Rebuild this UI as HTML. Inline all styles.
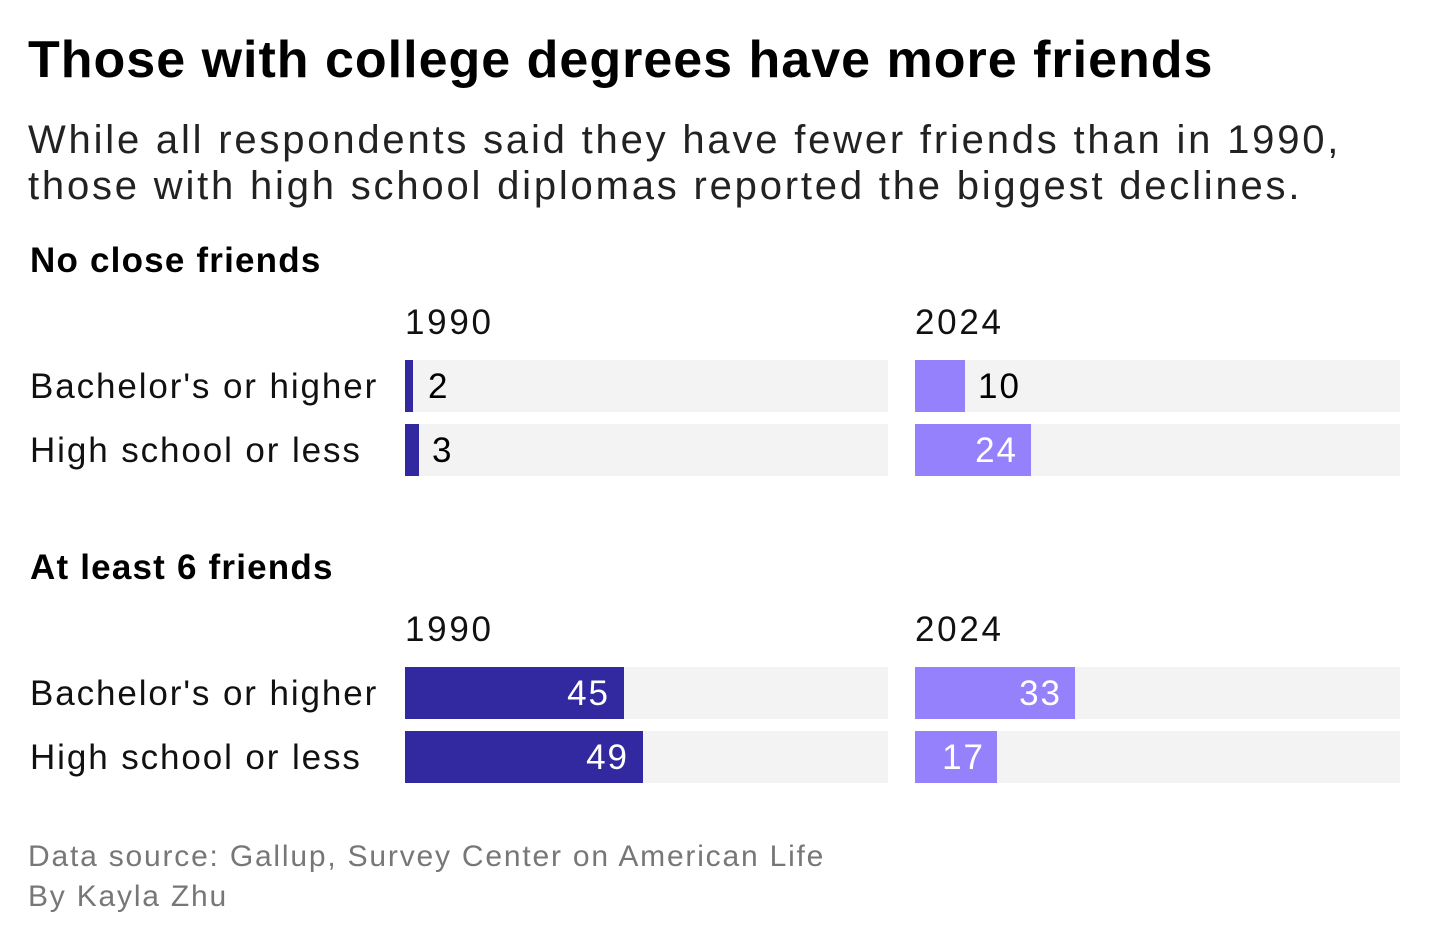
<!DOCTYPE html>
<html><head><meta charset="utf-8"><style>
body{margin:0;width:1440px;height:944px;background:#fff;font-family:"Liberation Sans",sans-serif;color:#000;position:relative;overflow:hidden}
div{position:absolute;white-space:nowrap}
.t{left:28px;top:30px;font-size:52px;font-weight:bold;letter-spacing:1px}
.s{left:28px;top:117px;font-size:40px;line-height:46px;color:#222;letter-spacing:2.8px}
.h{left:30px;font-size:35px;font-weight:bold;letter-spacing:1.2px}
.y{font-size:35px;color:#111;letter-spacing:2.7px}
.l{left:30px;font-size:35px;color:#111;line-height:52px;letter-spacing:1.9px}
.bg{height:52px;background:#f3f3f3}
.d{height:52px;background:#3229a0}
.p{height:52px;background:#9681fc}
.v{font-size:35px;line-height:52px;letter-spacing:2px}
.w{color:#fff;text-align:right}
.f{left:28px;font-size:30px;color:#777;letter-spacing:1.8px}
</style></head><body>
<div class="t">Those with college degrees have more friends</div>
<div class="s">While all respondents said they have fewer friends than in 1990,<br>those with high school diplomas reported the biggest declines.</div>

<div class="h" style="top:241px">No close friends</div>
<div class="y" style="left:405px;top:303px">1990</div>
<div class="y" style="left:915px;top:303px">2024</div>
<div class="l" style="top:361px">Bachelor's or higher</div>
<div class="l" style="top:425px">High school or less</div>
<div class="bg" style="left:405px;top:360px;width:483px"></div>
<div class="bg" style="left:405px;top:424px;width:483px"></div>
<div class="bg" style="left:915px;top:360px;width:485px"></div>
<div class="bg" style="left:915px;top:424px;width:485px"></div>
<div class="d" style="left:405px;top:360px;width:8px"></div>
<div class="d" style="left:405px;top:424px;width:14px"></div>
<div class="p" style="left:915px;top:360px;width:50px"></div>
<div class="p" style="left:915px;top:424px;width:116px"></div>
<div class="v" style="left:428px;top:361px">2</div>
<div class="v" style="left:432px;top:425px">3</div>
<div class="v" style="left:978px;top:361px">10</div>
<div class="v w" style="left:915px;top:425px;width:103px">24</div>

<div class="h" style="top:548px">At least 6 friends</div>
<div class="y" style="left:405px;top:610px">1990</div>
<div class="y" style="left:915px;top:610px">2024</div>
<div class="l" style="top:668px">Bachelor's or higher</div>
<div class="l" style="top:732px">High school or less</div>
<div class="bg" style="left:405px;top:667px;width:483px"></div>
<div class="bg" style="left:405px;top:731px;width:483px"></div>
<div class="bg" style="left:915px;top:667px;width:485px"></div>
<div class="bg" style="left:915px;top:731px;width:485px"></div>
<div class="d" style="left:405px;top:667px;width:219px"></div>
<div class="d" style="left:405px;top:731px;width:238px"></div>
<div class="p" style="left:915px;top:667px;width:160px"></div>
<div class="p" style="left:915px;top:731px;width:82px"></div>
<div class="v w" style="left:405px;top:668px;width:205px">45</div>
<div class="v w" style="left:405px;top:732px;width:224px">49</div>
<div class="v w" style="left:915px;top:668px;width:147px">33</div>
<div class="v w" style="left:915px;top:732px;width:70px">17</div>

<div class="f" style="top:840px">Data source: Gallup, Survey Center on American Life</div>
<div class="f" style="top:880px">By Kayla Zhu</div>
</body></html>
